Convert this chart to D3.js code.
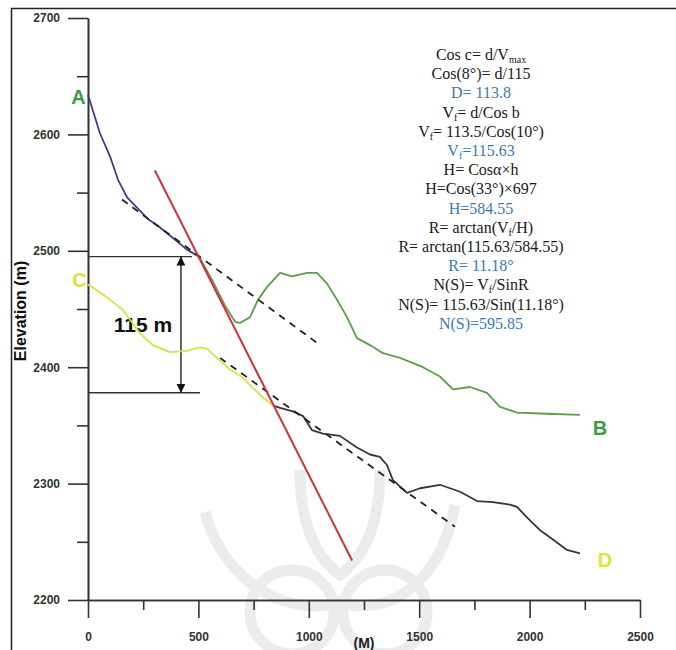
<!DOCTYPE html>
<html>
<head>
<meta charset="utf-8">
<script src="https://cdn.jsdelivr.net/npm/d3@7"></script>
<style>
  body { margin: 0; background: #fff; }
  svg { display: block; }
</style>
</head>
<body>
<svg id="chart" width="676" height="650"></svg>
<script>
// profile A -> intersection (purple)
const aX = [0, 54, 100, 136, 177, 222, 267, 326, 385, 448, 503];
const aElev = [2634, 2601, 2581, 2561, 2546, 2537, 2528, 2520, 2511, 2501, 2495];
// intersection -> B (green)
const bX = [503, 562, 620, 666, 688, 734, 770, 811, 870, 924, 992, 1037, 1082, 1128, 1173, 1218, 1277, 1336, 1413, 1517, 1594, 1653, 1730, 1807, 1866, 1943, 2079, 2228];
const bElev = [2495, 2475, 2453, 2439, 2438, 2443, 2458, 2469, 2481, 2478, 2481, 2481, 2472, 2458, 2443, 2425, 2419, 2412, 2408, 2400, 2392, 2381, 2383, 2378, 2366, 2361, 2360, 2359];
// C -> intersection (yellow)
const cX = [0, 86, 159, 236, 294, 371, 448, 507, 539, 584, 643, 702, 747, 793, 838];
const cElev = [2471, 2460, 2449, 2429, 2419, 2413, 2414, 2417, 2416, 2408, 2398, 2391, 2382, 2374, 2367];
// intersection -> D (black)
const dX = [838, 870, 928, 974, 1014, 1064, 1141, 1218, 1277, 1322, 1354, 1381, 1445, 1504, 1594, 1685, 1762, 1834, 1911, 1943, 1988, 2047, 2106, 2169, 2228];
const dElev = [2367, 2365, 2362, 2358, 2346, 2343, 2341, 2331, 2325, 2323, 2316, 2303, 2292, 2296, 2299, 2293, 2285, 2284, 2282, 2280, 2271, 2260, 2252, 2243, 2240];
// fault line (red) and the two dashed trend lines
const faultX = [303, 1196];
const faultElev = [2569, 2234];
const trendUpX = [154, 1051];
const trendUpElev = [2544, 2419];
const trendLowX = [598, 1662];
const trendLowElev = [2408, 2263];
// 115 m offset guides
const guideElev = [2495, 2378];
const guideEndX = [471, 507];
const arrowX = 421;

const xMajor = [0, 500, 1000, 1500, 2000, 2500];
const xMinor = [250, 750, 1250, 1750, 2250];
const yMajor = [2200, 2300, 2400, 2500, 2600, 2700];
const yMinor = [2250, 2350, 2450, 2550, 2650];

const formulaLines = [
  [["Cos c= d/V"], ["max", "sub"]],
  [["Cos(8°)= d/115"]],
  [["D= 113.8"]],
  [["V"], ["f", "sub"], ["= d/Cos b"]],
  [["V"], ["f", "sub"], ["= 113.5/Cos(10°)"]],
  [["V"], ["f", "sub"], ["=115.63"]],
  [["H= Cosα×h"]],
  [["H=Cos(33°)×697"]],
  [["H=584.55"]],
  [["R= arctan(V"], ["f", "sub"], ["/H)"]],
  [["R= arctan(115.63/584.55)"]],
  [["R= 11.18°"]],
  [["N(S)= V"], ["f", "sub"], ["/SinR"]],
  [["N(S)= 115.63/Sin(11.18°)"]],
  [["N(S)=595.85"]]
];
const resultLines = [2, 5, 8, 11, 14];

const svg = d3.select("#chart");
const x = d3.scaleLinear().domain([0, 2500]).range([88, 640]);
const y = d3.scaleLinear().domain([2200, 2700]).range([600, 18]);

// faint watermark emblem behind everything
const wm = svg.append("g").attr("fill", "none").attr("stroke", "#ececec").attr("stroke-width", 11);
wm.append("path").attr("d", "M205,512 C225,590 300,620 345,600");
wm.append("path").attr("d", "M455,505 C440,590 380,620 335,600");
wm.append("circle").attr("cx", 292).attr("cy", 612).attr("r", 42);
wm.append("circle").attr("cx", 385).attr("cy", 612).attr("r", 42);
wm.append("path").attr("d", "M300,470 C300,530 320,560 340,575 C360,560 380,530 380,470");

// frame
svg.append("rect").attr("x", 11.5).attr("y", 8.5).attr("width", 720).attr("height", 720)
  .attr("fill", "none").attr("stroke", "#222").attr("stroke-width", 1.5);

function styleAxis(g) {
  g.selectAll(".domain").attr("stroke", "#333").attr("stroke-width", 1.6);
  g.selectAll(".tick line").attr("stroke", "#333").attr("stroke-width", 1.6);
  g.selectAll("text").attr("fill", "#333")
    .style("font", "bold 12px 'Liberation Sans', Arial, sans-serif");
}

svg.append("g").attr("transform", "translate(0,600)")
  .call(d3.axisBottom(x).tickValues(xMinor).tickSize(10).tickSizeOuter(0).tickFormat(""))
  .call(styleAxis);
svg.append("g").attr("transform", "translate(0,600)")
  .call(d3.axisBottom(x).tickValues(xMajor).tickSize(18).tickPadding(14).tickSizeOuter(0).tickFormat(d3.format("d")))
  .call(styleAxis);
svg.append("g").attr("transform", "translate(88,0)")
  .call(d3.axisLeft(y).tickValues(yMinor).tickSize(11).tickSizeOuter(0).tickFormat(""))
  .call(styleAxis);
svg.append("g").attr("transform", "translate(88,0)")
  .call(d3.axisLeft(y).tickValues(yMajor).tickSize(20).tickPadding(8).tickSizeOuter(0).tickFormat(d3.format("d")))
  .call(styleAxis);

svg.append("text")
  .attr("transform", `translate(26,${(y(2500) + y(2400)) / 2 + 2}) rotate(-90)`)
  .attr("text-anchor", "middle")
  .style("font", "bold 16px 'Liberation Sans', Arial, sans-serif")
  .attr("fill", "#111")
  .text("Elevation (m)");
svg.append("text")
  .attr("x", x(1250)).attr("y", 648)
  .attr("text-anchor", "middle")
  .style("font", "bold 14px 'Liberation Sans', Arial, sans-serif")
  .attr("fill", "#222")
  .text("(M)");

const line = d3.line().x(d => x(d[0])).y(d => y(d[1]));
const zip = (xs, ys) => xs.map((v, i) => [v, ys[i]]);

// 115 m guides and arrow
svg.append("defs").append("marker")
  .attr("id", "tip").attr("viewBox", "0 0 10 10").attr("refX", 10).attr("refY", 5)
  .attr("markerWidth", 9).attr("markerHeight", 9).attr("markerUnits", "userSpaceOnUse")
  .attr("orient", "auto-start-reverse")
  .append("path").attr("d", "M0,0 L10,5 L0,10 Z").attr("fill", "#111");

guideElev.forEach((e, i) => {
  svg.append("path").attr("d", line([[0, e], [guideEndX[i], e]]))
    .attr("stroke", "#333").attr("stroke-width", 1.4).attr("fill", "none");
});
svg.append("path").attr("d", line([[arrowX, guideElev[0]], [arrowX, guideElev[1]]]))
  .attr("stroke", "#111").attr("stroke-width", 1.3).attr("fill", "none")
  .attr("marker-start", "url(#tip)").attr("marker-end", "url(#tip)");
svg.append("text")
  .attr("x", x(249)).attr("y", y(2437) + 8)
  .attr("text-anchor", "middle")
  .style("font", "bold 21px 'Liberation Sans', Arial, sans-serif")
  .attr("fill", "#111")
  .text("115 m");

// profiles
const profiles = [
  { xs: cX, ys: cElev, color: "#d6e244" },
  { xs: dX, ys: dElev, color: "#3a3535" },
  { xs: bX, ys: bElev, color: "#5b9e4c" },
  { xs: aX, ys: aElev, color: "#4a3a85" }
];
profiles.forEach(p => {
  svg.append("path").attr("d", line(zip(p.xs, p.ys)))
    .attr("fill", "none").attr("stroke", p.color).attr("stroke-width", 1.8)
    .attr("stroke-linejoin", "round");
});

// dashed trend lines
[[trendUpX, trendUpElev], [trendLowX, trendLowElev]].forEach(([xs, ys]) => {
  svg.append("path").attr("d", line(zip(xs, ys)))
    .attr("fill", "none").attr("stroke", "#222").attr("stroke-width", 1.8)
    .attr("stroke-dasharray", "7,6");
});

// fault line
svg.append("path").attr("d", line(zip(faultX, faultElev)))
  .attr("fill", "none").attr("stroke", "#d1303c").attr("stroke-width", 2);

// end labels
const endLabels = [
  { t: "A", xm: -10, e: 2632, c: "#3f9b3f", anchor: "end" },
  { t: "C", xm: -6, e: 2475, c: "#dbe23c", anchor: "end" },
  { t: "B", xm: 2319, e: 2348, c: "#3f9b3f", anchor: "middle" },
  { t: "D", xm: 2341, e: 2234, c: "#e2e535", anchor: "middle" }
];
endLabels.forEach(l => {
  svg.append("text").attr("x", x(l.xm)).attr("y", y(l.e) + 7)
    .attr("text-anchor", l.anchor)
    .style("font", "bold 20px 'Liberation Sans', Arial, sans-serif")
    .attr("fill", l.c).text(l.t);
});

// formula block
const block = svg.append("text")
  .attr("text-anchor", "middle")
  .style("font", "16px 'Liberation Serif', 'Times New Roman', serif");
formulaLines.forEach((segs, i) => {
  const row = block.append("tspan").attr("x", x(1780)).attr("y", 60 + i * 19.2)
    .attr("fill", resultLines.includes(i) ? "#3f78a8" : "#1a1a1a");
  let shifted = false;
  segs.forEach(s => {
    const t = row.append("tspan").text(s[0]);
    if (s[1] === "sub") {
      t.attr("dy", 3).style("font-size", "10px");
      shifted = true;
    } else if (shifted) {
      t.attr("dy", -3);
      shifted = false;
    }
  });
});
</script>
</body>
</html>
